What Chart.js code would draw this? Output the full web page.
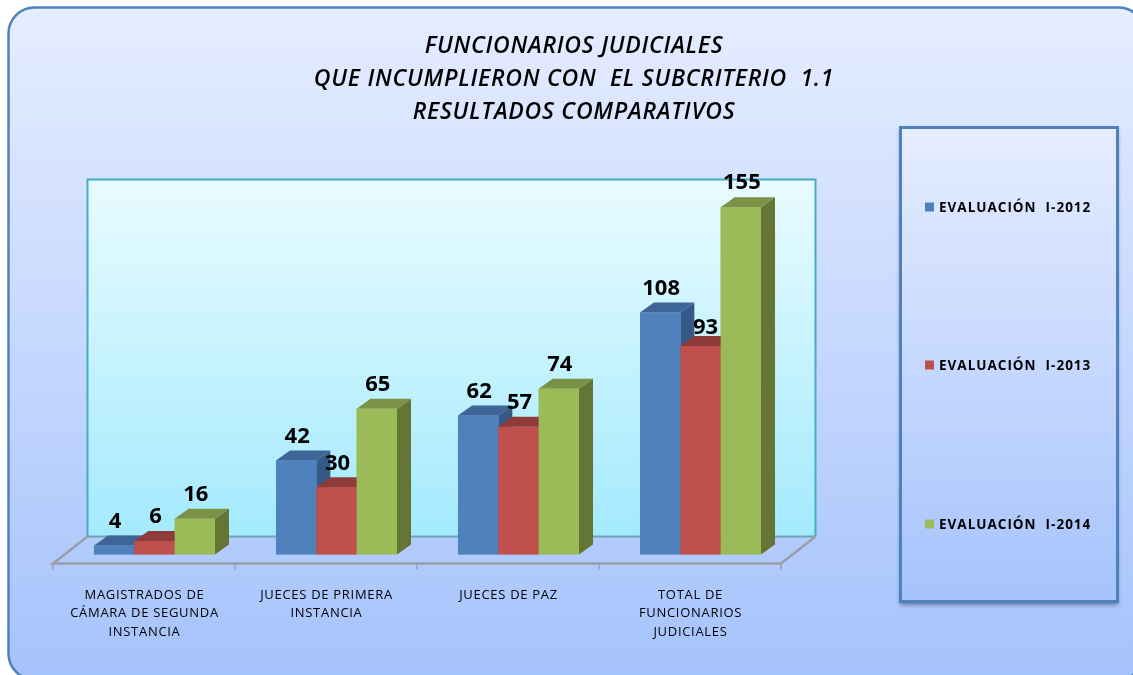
<!DOCTYPE html>
<html><head><meta charset="utf-8">
<script src="https://cdn.jsdelivr.net/npm/chart.js@4"></script>
<style>html,body{margin:0;padding:0;background:#fff}canvas{display:block}</style>
</head><body><canvas id="c" width="1133" height="675"></canvas>
<script>
const categories = [
  ["MAGISTRADOS DE","CÁMARA DE SEGUNDA","INSTANCIA"],
  ["JUECES DE PRIMERA","INSTANCIA"],
  ["JUECES DE PAZ"],
  ["TOTAL DE","FUNCIONARIOS","JUDICIALES"]
];
const eval2012 = [4,42,62,108];
const eval2013 = [6,30,57,93];
const eval2014 = [16,65,74,155];
const seriesNames = ["EVALUACIÓN  I-2012","EVALUACIÓN  I-2013","EVALUACIÓN  I-2014"];
const titleLines = ["FUNCIONARIOS JUDICIALES","QUE INCUMPLIERON CON  EL SUBCRITERIO  1.1","RESULTADOS COMPARATIVOS"];
const frontColors = ["#4f81bd","#c0504d","#9bbb59"];
const topColors = ["#3e6595","#8f3b39","#7a9146"];
const sideColors = ["#365a86","#7f3331","#647535"];
const DX = 14, DY = 10;

const scene = {
  id:'scene',
  beforeDraw(chart){
    const ctx = chart.ctx, a = chart.chartArea;
    ctx.save();
    // outer panel
    let g = ctx.createLinearGradient(0,8,0,675);
    g.addColorStop(0,'#e5edff'); g.addColorStop(.5,'#c6d8fe'); g.addColorStop(1,'#a5c3fb');
    ctx.beginPath();ctx.roundRect(8.5,7.5,1136,672,26);
    ctx.fillStyle=g; ctx.fill();
    ctx.lineWidth=2.5; ctx.strokeStyle='#4f81bd'; ctx.stroke();
    // legend panel
    ctx.save();
    ctx.shadowColor='rgba(40,60,90,.55)'; ctx.shadowBlur=4; ctx.shadowOffsetY=3;
    g = ctx.createLinearGradient(0,127,0,602);
    g.addColorStop(0,'#e5edff'); g.addColorStop(.5,'#c6d8fe'); g.addColorStop(1,'#a5c3fb');
    ctx.fillStyle=g; ctx.fillRect(900,127,218,475);
    ctx.restore();
    ctx.lineWidth=3; ctx.strokeStyle='#4f81bd'; ctx.strokeRect(900.5,127.5,217,474);
    // back wall
    const wl=a.left+24, wr=a.right+24, wb=a.bottom-18, wt=179.5;
    g = ctx.createLinearGradient(0,wt,0,wb);
    g.addColorStop(0,'#e8fbff'); g.addColorStop(1,'#a4eafe');
    ctx.fillStyle=g; ctx.fillRect(wl,wt,wr-wl,wb-wt);
    ctx.lineWidth=2; ctx.strokeStyle='#47aac6';
    ctx.beginPath();ctx.moveTo(wl,wb);ctx.lineTo(wl,wt);ctx.lineTo(wr,wt);ctx.lineTo(wr,wb);ctx.stroke();
    ctx.strokeStyle='#6ea3b4';
    ctx.beginPath();ctx.moveTo(wl,wb);ctx.lineTo(wr,wb);ctx.stroke();
    // floor
    const fl=a.left-10.5, fr=a.right-10.5, fb=a.bottom+9;
    ctx.strokeStyle='#9a9ea6'; ctx.lineWidth=2.5;
    ctx.beginPath();ctx.moveTo(wl,wb);ctx.lineTo(fl,fb);ctx.lineTo(fr,fb);ctx.lineTo(wr,wb);ctx.stroke();
    ctx.lineWidth=1.5;
    for(let i=0;i<=categories.length;i++){
      const x=fl+i*(fr-fl)/categories.length;
      ctx.beginPath();ctx.moveTo(x,fb);ctx.lineTo(x,fb+6);ctx.stroke();
    }
    // title
    ctx.fillStyle='#000'; ctx.textAlign='center'; ctx.textBaseline='middle';
    ctx.font='italic 600 23px "Open Sans"';
    ctx.letterSpacing='0.75px';
    titleLines.forEach((t,i)=>ctx.fillText(t,574,46+i*33));
    // legend
    ctx.textAlign='left'; ctx.font='700 13.5px "Open Sans"';
    ctx.letterSpacing='1px';
    [208,366,525].forEach((y,i)=>{
      ctx.fillStyle=frontColors[i]; ctx.fillRect(925,y-5.5,9,9);
      ctx.fillStyle='#000'; ctx.fillText(seriesNames[i],939,y);
    });
    ctx.letterSpacing='0px';
    ctx.restore();
    ctx.letterSpacing='0.7px'; // tick labels
  },
  afterDatasetsDraw(chart){
    const ctx=chart.ctx;
    ctx.save();
    ctx.letterSpacing='0px';
    // depth faces and fronts, drawn back to front so later series cover earlier sides
    chart.data.datasets.forEach((d,i)=>{
      chart.getDatasetMeta(i).data.forEach(b=>{
        const l=b.x-b.width/2, r=b.x+b.width/2, t=b.y, bot=b.base;
        ctx.fillStyle=sideColors[i];
        ctx.beginPath();ctx.moveTo(r,t);ctx.lineTo(r+DX,t-DY);ctx.lineTo(r+DX,bot-DY);ctx.lineTo(r,bot);ctx.closePath();ctx.fill();
        ctx.fillStyle=topColors[i];
        ctx.beginPath();ctx.moveTo(l,t);ctx.lineTo(r,t);ctx.lineTo(r+DX,t-DY);ctx.lineTo(l+DX,t-DY);ctx.closePath();ctx.fill();
        b.draw(ctx);
      });
    });
    ctx.fillStyle='#000'; ctx.textAlign='center'; ctx.textBaseline='middle';
    ctx.font='700 22px "Open Sans"';
    chart.data.datasets.forEach((d,i)=>{
      chart.getDatasetMeta(i).data.forEach((b,j)=>{
        const shifted = i===1 && j===3; // the 93 label sits lower and to the right in the original
        ctx.fillText(String(d.data[j]),b.x+(shifted?5:1),b.y-(shifted?18:24));
      });
    });
    ctx.restore();
  }
};

new Chart(document.getElementById('c'),{
  type:'bar',
  data:{labels:categories,datasets:[
    {label:seriesNames[0],data:eval2012,backgroundColor:frontColors[0]},
    {label:seriesNames[1],data:eval2013,backgroundColor:frontColors[1]},
    {label:seriesNames[2],data:eval2014,backgroundColor:frontColors[2]}
  ]},
  options:{
    responsive:false,animation:false,
    layout:{padding:{top:196,left:63.5,right:341.5,bottom:0}},
    plugins:{legend:{display:false},title:{display:false},tooltip:{enabled:false}},
    datasets:{bar:{categoryPercentage:0.665,barPercentage:1}},
    scales:{
      x:{
        grid:{display:false},border:{display:false},
        afterFit(s){s.height=120.5;},
        ticks:{autoSkip:false,maxRotation:0,minRotation:0,padding:23,labelOffset:-10,color:'#000',
          font:{family:'"Open Sans"',size:13,lineHeight:1.44}}
      },
      y:{display:false,min:0,max:160,grid:{display:false}}
    }
  },
  plugins:[scene]
});
</script>
</body></html>
